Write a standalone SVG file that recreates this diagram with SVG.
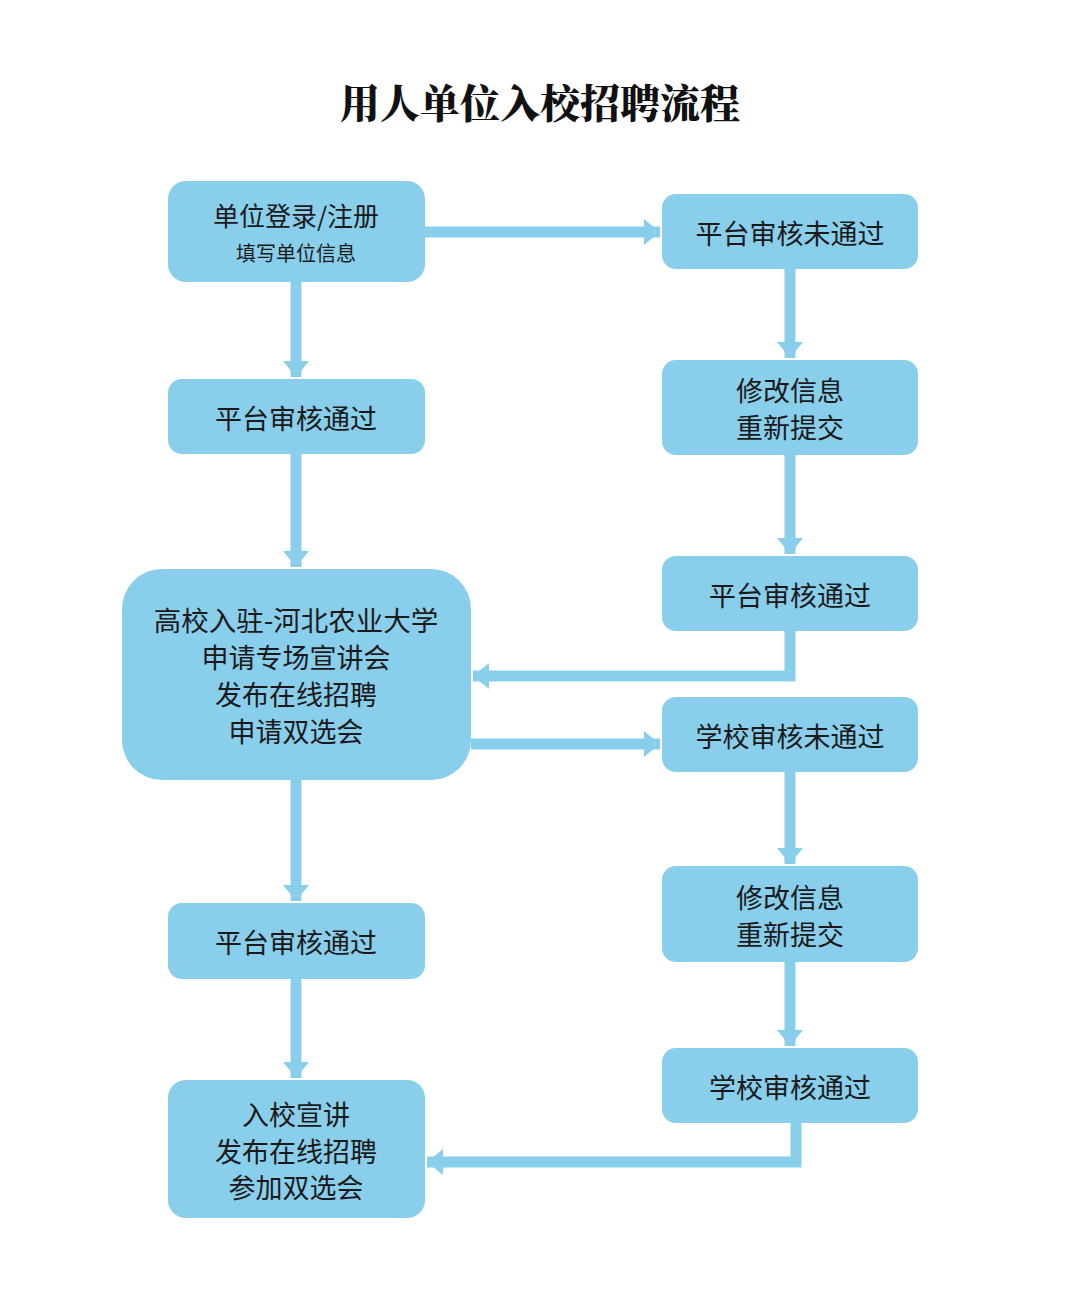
<svg xmlns="http://www.w3.org/2000/svg" width="1080" height="1300" viewBox="0 0 1080 1300">
<defs>
<style>
.n{fill:#89CEEB;}
.t{font-family:"Noto Sans CJK SC","Noto Sans",sans-serif;fill:#1a1a1a;text-anchor:middle;dominant-baseline:central;}
.c{stroke:#89CEEB;stroke-width:11;fill:none;}
.title{font-family:"Noto Serif CJK SC","Noto Sans CJK SC",serif;font-weight:900;font-size:40px;fill:#111;text-anchor:middle;dominant-baseline:central;}
</style>
<marker id="ah" markerUnits="userSpaceOnUse" markerWidth="20" markerHeight="28" refX="16" refY="14" orient="auto">
<path d="M0,1 L16,14 L0,27 Z" fill="#89CEEB"/>
</marker>
</defs>
<rect width="1080" height="1300" fill="#fff"/>
<text class="title" x="540" y="100">用人单位入校招聘流程</text>

<g id="connectors">
<path class="c" d="M425,232 H660" marker-end="url(#ah)"/>
<path class="c" d="M296,282 V377" marker-end="url(#ah)"/>
<path class="c" d="M790,269 V358" marker-end="url(#ah)"/>
<path class="c" d="M790,455 V554" marker-end="url(#ah)"/>
<path class="c" d="M296,454 V567" marker-end="url(#ah)"/>
<path class="c" d="M790,631 V676 H473" marker-end="url(#ah)"/>
<path class="c" d="M471,744 H660" marker-end="url(#ah)"/>
<path class="c" d="M790,772 V864" marker-end="url(#ah)"/>
<path class="c" d="M790,962 V1046" marker-end="url(#ah)"/>
<path class="c" d="M296,780 V901" marker-end="url(#ah)"/>
<path class="c" d="M296,979 V1078" marker-end="url(#ah)"/>
<path class="c" d="M796,1123 V1162 H427" marker-end="url(#ah)"/>
</g>

<g id="n1"><rect class="n" x="168" y="181" width="257" height="101" rx="18"/>
<text class="t" x="296" y="214" font-size="26">单位登录/注册</text>
<text class="t" x="296" y="252" font-size="20">填写单位信息</text></g>

<g id="n2"><rect class="n" x="662" y="194" width="256" height="75" rx="14"/>
<text class="t" x="790" y="232" font-size="27">平台审核未通过</text></g>

<g id="n3"><rect class="n" x="168" y="379" width="257" height="75" rx="14"/>
<text class="t" x="296" y="417" font-size="27">平台审核通过</text></g>

<g id="n4"><rect class="n" x="662" y="360" width="256" height="95" rx="14"/>
<text class="t" x="790" y="389" font-size="27">修改信息</text>
<text class="t" x="790" y="426" font-size="27">重新提交</text></g>

<g id="n5"><rect class="n" x="662" y="556" width="256" height="75" rx="14"/>
<text class="t" x="790" y="594" font-size="27">平台审核通过</text></g>

<g id="n6"><rect class="n" x="122" y="569" width="349" height="211" rx="40"/>
<text class="t" x="296" y="619" font-size="27.5">高校入驻-河北农业大学</text>
<text class="t" x="296" y="656" font-size="27">申请专场宣讲会</text>
<text class="t" x="296" y="693" font-size="27">发布在线招聘</text>
<text class="t" x="296" y="730" font-size="27">申请双选会</text></g>

<g id="n7"><rect class="n" x="662" y="697" width="256" height="75" rx="14"/>
<text class="t" x="790" y="735" font-size="27">学校审核未通过</text></g>

<g id="n8"><rect class="n" x="662" y="866" width="256" height="96" rx="14"/>
<text class="t" x="790" y="896" font-size="27">修改信息</text>
<text class="t" x="790" y="933" font-size="27">重新提交</text></g>

<g id="n9"><rect class="n" x="168" y="903" width="257" height="76" rx="14"/>
<text class="t" x="296" y="941" font-size="27">平台审核通过</text></g>

<g id="n10"><rect class="n" x="662" y="1048" width="256" height="75" rx="14"/>
<text class="t" x="790" y="1086" font-size="27">学校审核通过</text></g>

<g id="n11"><rect class="n" x="168" y="1080" width="257" height="138" rx="18"/>
<text class="t" x="296" y="1113" font-size="27">入校宣讲</text>
<text class="t" x="296" y="1150" font-size="27">发布在线招聘</text>
<text class="t" x="296" y="1186" font-size="27">参加双选会</text></g>
</svg>
